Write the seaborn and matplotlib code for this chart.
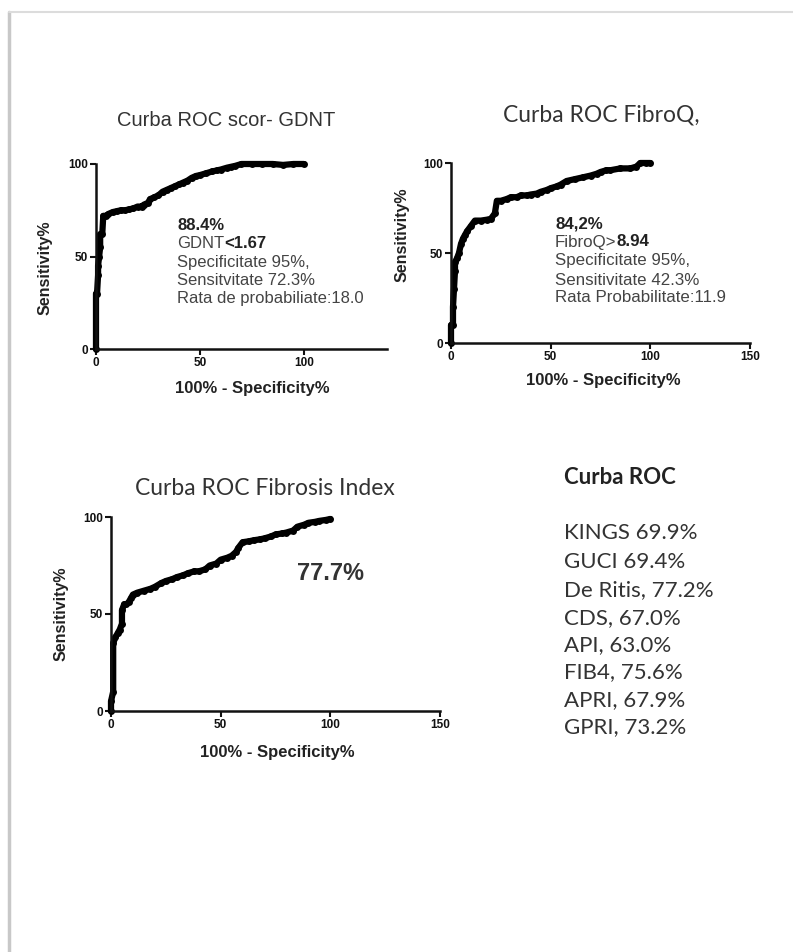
import numpy as np
import pandas as pd
import matplotlib
matplotlib.use("Agg")
import matplotlib.pyplot as plt
from matplotlib.lines import Line2D
from matplotlib.text import Annotation
import seaborn as sns

# Datos (100% - Specificity%, Sensitivity%)
gdnt_x = [0, 0, 0.5, 1, 1, 1.5, 2, 2, 3, 3.5, 5, 6, 8, 10, 12, 14, 16, 18, 20, 22, 23, 25, 26, 28,
          30, 32, 34, 36, 38, 40, 42, 44, 46, 48, 50, 53, 56, 58, 60, 63, 65, 67, 70, 75, 80, 85, 90, 95, 100]
gdnt_y = [0, 30, 30, 40, 45, 50, 55, 62, 62, 72, 72, 73, 74, 74.5, 75, 75, 75.5, 76, 77, 77, 78, 79, 81, 82,
          83, 85, 86, 87, 88, 89, 90, 91, 92.5, 93.5, 94, 95, 96, 96.5, 97, 98, 98.5, 99, 100, 100, 100, 100, 99.5, 100, 100]

fibroq_x = [0, 0, 1, 1, 1.5, 2, 2, 3, 4, 5, 6, 7, 8, 10, 12, 15, 18, 20, 22, 23, 25, 28, 30, 33, 35, 38,
            40, 43, 45, 48, 50, 53, 55, 58, 62, 66, 70, 73, 75, 78, 80, 85, 90, 93, 95, 98, 100]
fibroq_y = [0, 10, 10, 20, 30, 40, 45, 47, 50, 55, 58, 60, 62, 65, 68, 68, 68.5, 69, 72, 79, 79, 80, 81, 81, 82, 82,
            82.5, 83, 84, 85, 86, 87, 88, 90, 91, 92, 93, 94, 95, 96, 96, 97, 97, 98, 100, 100, 100]

fi_x = [0, 0, 1, 1, 2, 3, 4, 5, 5, 6, 7, 8, 9, 10, 12, 15, 18, 20, 23, 25, 28, 30, 33, 35, 38, 40, 43, 45,
        48, 50, 53, 55, 57, 58, 60, 63, 65, 68, 70, 73, 75, 78, 80, 83, 85, 88, 90, 93, 95, 98, 100]
fi_y = [0, 5, 10, 35, 38, 40, 42, 45, 52, 55, 55, 56, 58, 60, 61, 62, 63, 64, 66, 67, 68, 69, 70, 71, 72, 72, 73, 75,
        76, 78, 79, 80, 82, 84, 87, 87.5, 88, 88.5, 89, 90, 91, 91.5, 92, 93, 95, 96, 97, 97.5, 98, 98.5, 99]

# Lista de AUC de otros scoruri
scoruri = ["KINGS 69.9%", "GUCI 69.4%", "De Ritis, 77.2%", "CDS, 67.0%",
           "API, 63.0%", "FIB4, 75.6%", "APRI, 67.9%", "GPRI, 73.2%"]

sns.set_style("ticks")
plt.rcParams['font.family'] = ['Liberation Sans', 'DejaVu Sans']
CALIBRI = ["Lato", "DejaVu Sans"]

W, H = 793, 952
fig = plt.figure(figsize=(W / 100, H / 100), dpi=100)
fig.patch.set_facecolor("white")


def px(x, y):
    # pixeli -> coordonate figura
    return x / W, 1 - y / H


def make_ax(box, xmax, xticks, ylab_px, xlab_px, x, y):
    left, top, right, bottom = box
    l, t = px(left, top)
    r, b = px(right, bottom)
    ax = fig.add_axes([l, b, r - l, t - b])
    df = pd.DataFrame({"x": x, "y": y})
    sns.lineplot(data=df, x="x", y="y", ax=ax, sort=False, estimator=None,
                 color="black", linewidth=4.5, marker="o", markersize=5,
                 markeredgewidth=0, clip_on=False)
    ax.set_xlim(0, xmax)
    ax.set_ylim(0, 100)
    ax.set_xticks(xticks)
    ax.set_yticks([0, 50, 100])
    sns.despine(ax=ax)
    for s in ["left", "bottom"]:
        ax.spines[s].set_linewidth(1.8)
        ax.spines[s].set_color("#111111")
    ax.tick_params(width=1.5, length=4, color="#111111", labelsize=8.5, pad=2,
                   labelcolor="#111111")
    for lab in ax.get_xticklabels() + ax.get_yticklabels():
        lab.set_fontweight("bold")
    ax.set_xlabel("100% - Specificity%", fontsize=12, fontweight="bold",
                  va="center", color="#222222")
    ax.set_ylabel("Sensitivity%", fontsize=11.5, fontweight="bold",
                  va="center", ha="center", color="#222222")
    ax.xaxis.set_label_coords((xlab_px[0] - left) / (right - left),
                              (bottom - xlab_px[1]) / (bottom - top))
    ax.yaxis.set_label_coords((ylab_px[0] - left) / (right - left),
                              (bottom - ylab_px[1]) / (bottom - top))
    return ax


# Panel 1 - GDNT
ax1 = make_ax((96, 164, 387, 349), 140, [0, 50, 100], (45, 268), (252, 389), gdnt_x, gdnt_y)
# Panel 2 - FibroQ
ax2 = make_ax((451, 163, 750, 343), 150, [0, 50, 100, 150], (402, 235), (603, 381), fibroq_x, fibroq_y)
# Panel 3 - Fibrosis Index
ax3 = make_ax((111, 517, 440, 711), 150, [0, 50, 100, 150], (61, 614), (277, 752), fi_x, fi_y)

# Titluri
fig.text(*px(226, 120), "Curba ROC scor- GDNT", ha="center", va="center",
         fontsize=14.5, color="#333333")
fig.text(*px(601, 115), "Curba ROC FibroQ,", ha="center", va="center",
         fontsize=16.5, color="#333333", family=CALIBRI)
fig.text(*px(265, 489), "Curba ROC Fibrosis Index", ha="center", va="center",
         fontsize=16.5, color="#333333", family=CALIBRI)


def text_lines(x0, ys, lines, size):
    # fiecare linie: lista de (text, bold)
    for y, parts in zip(ys, lines):
        last = None
        for txt, bold in parts:
            kw = dict(fontsize=size, color="#222222" if bold else "#444444",
                      fontweight="bold" if bold else "normal", va="center")
            if last is None:
                last = fig.text(*px(x0, y), txt, ha="left", **kw)
            else:
                ann = Annotation(txt, xy=(1, 0.5), xycoords=last, ha="left", **kw)
                fig.add_artist(ann)
                last = ann


text_lines(177, [225, 243, 262, 280, 298],
           [[("88.4%", True)],
            [("GDNT", False), ("<1.67", True)],
            [("Specificitate 95%,", False)],
            [("Sensitvitate 72.3%", False)],
            [("Rata de probabiliate:18.0", False)]], 12)

text_lines(555, [224, 242, 261, 280, 298],
           [[("84,2%", True)],
            [("FibroQ>", False), ("8.94", True)],
            [("Specificitate 95%,", False)],
            [("Sensitivitate 42.3%", False)],
            [("Rata Probabilitate:11.9", False)]], 12.2)

fig.text(*px(331, 573), "77.7%", ha="center", va="center", fontsize=17,
         fontweight="bold", color="#333333")

# Bloc text dreapta
fig.text(*px(564, 477), "Curba ROC", ha="left", va="center", fontsize=16,
         fontweight="bold", color="#222222", family=CALIBRI)
ys_list = [533, 562, 590, 618, 645, 672, 700, 727]
for y, s in zip(ys_list, scoruri):
    fig.text(*px(564, y), s, ha="left", va="center", fontsize=16,
             color="#333333", family=CALIBRI)

# Rama gri a imaginii
fig.add_artist(Line2D([9 / W, 9 / W], [0, 1 - 12 / H], transform=fig.transFigure,
                      color="#c8c8c8", linewidth=2.5))
fig.add_artist(Line2D([9 / W, 1], [1 - 12 / H, 1 - 12 / H], transform=fig.transFigure,
                      color="#dcdcdc", linewidth=1.5))

fig.savefig("out.png", dpi=100, facecolor="white")
